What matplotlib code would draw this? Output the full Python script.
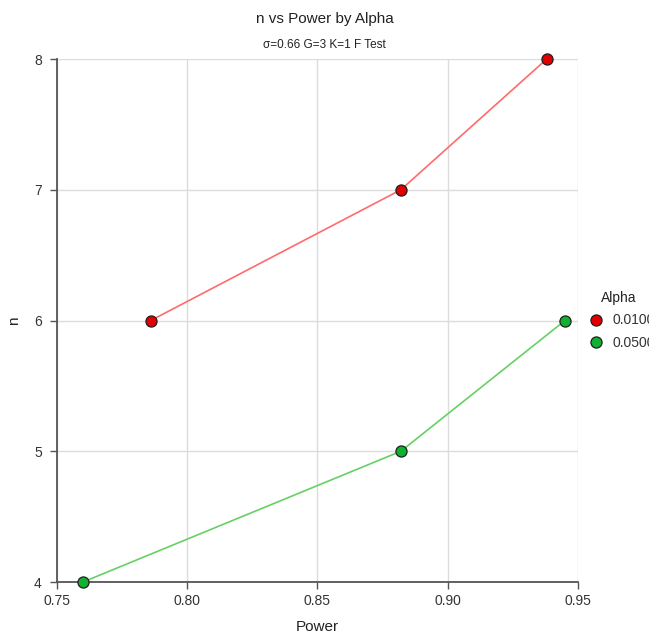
import matplotlib
matplotlib.use("Agg")
import matplotlib.pyplot as plt
from matplotlib.lines import Line2D

power_a01 = [0.786, 0.882, 0.938]
n_a01 = [6, 7, 8]
power_a05 = [0.760, 0.882, 0.945]
n_a05 = [4, 5, 6]
alpha_labels = ["0.0100", "0.0500"]
x_ticks = [0.75, 0.80, 0.85, 0.90, 0.95]
y_ticks = [4, 5, 6, 7, 8]

plt.rcParams['font.family'] = ['Liberation Sans', 'DejaVu Sans']

fig = plt.figure(figsize=(6.49, 6.36), dpi=100)
ax = fig.add_axes([0.0878, 0.0849, 0.8028, 0.8223])

series = [
    (power_a01, n_a01, "#ff6b6b", "#e00000"),
    (power_a05, n_a05, "#66d066", "#10b030"),
]
for xs, ys, lc, mc in series:
    ax.plot(xs, ys, color=lc, lw=1.2, zorder=3, clip_on=False)
    ax.plot(xs, ys, ls="none", marker="o", ms=8, mfc=mc, mec="#202020",
            mew=0.9, zorder=4, clip_on=False)

ax.set_xlim(0.75, 0.95)
ax.set_ylim(4, 8)
ax.set_xticks(x_ticks)
ax.set_xticklabels([f"{v:.2f}" for v in x_ticks])
ax.set_yticks(y_ticks)
ax.grid(True, color="#dcdcdc", lw=1.0)
ax.set_axisbelow(True)
for s in ["top", "right"]:
    ax.spines[s].set_visible(False)
for s in ["left", "bottom"]:
    ax.spines[s].set_color("#555555")
    ax.spines[s].set_linewidth(1.3)
ax.tick_params(colors="#333333", labelsize=10, length=5, width=1, color="#555555")
ax.tick_params(axis="y", pad=6)

ax.set_xlabel("Power", fontsize=11, color="#222222", labelpad=9)
ax.set_ylabel("n", fontsize=11, color="#222222", labelpad=9)

fig.text(0.5, 0.970, "n vs Power by Alpha", ha="center", va="center",
         fontsize=11, color="#222222")
fig.text(0.5, 0.929, "σ=0.66 G=3 K=1 F Test", ha="center", va="center",
         fontsize=8.5, color="#222222")

handles = [
    Line2D([], [], ls="none", marker="o", ms=8, mfc=c, mec="#202020", mew=0.9)
    for c in ["#e00000", "#10b030"]
]
leg = fig.legend(handles, alpha_labels, title="Alpha", loc="upper left",
                 bbox_to_anchor=(0.888, 0.551), frameon=False, fontsize=10,
                 title_fontsize=10, handletextpad=0.2, labelspacing=0.6,
                 borderaxespad=0)
for t in leg.get_texts():
    t.set_color("#333333")
leg.get_title().set_color("#222222")

fig.savefig("out.png", dpi=100)
